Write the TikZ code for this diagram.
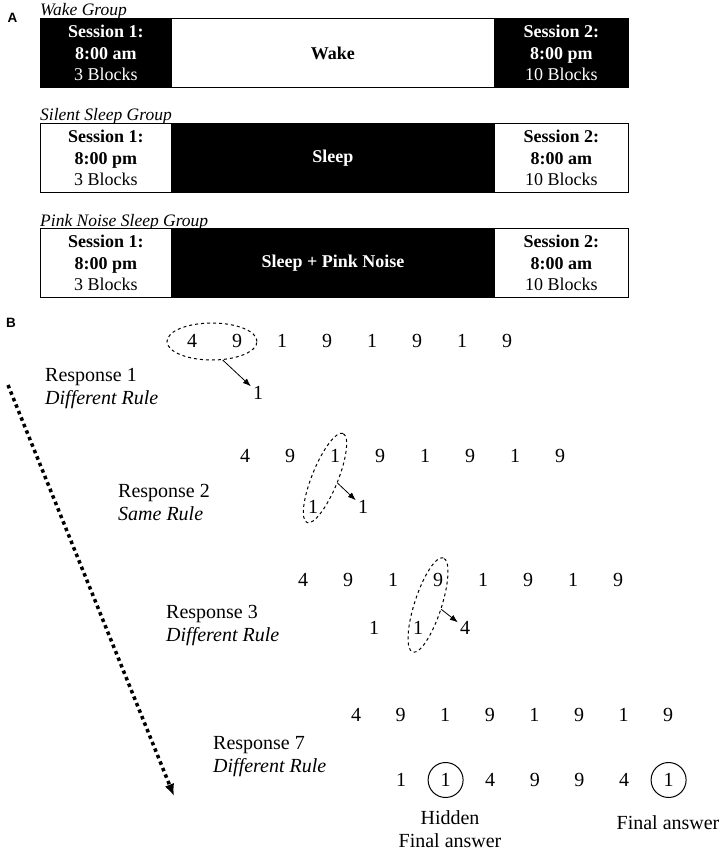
\documentclass[tikz,border=0pt]{standalone}
\usepackage{fontspec}
\setmainfont{Liberation Serif}
\setsansfont{Liberation Sans}
\usetikzlibrary{arrows.meta, positioning, shapes.geometric}
\tikzset{
  DARK/.style={% Style for black session cells
      rectangle, line width=0.8pt,
      anchor=west,
      align=center,
      text=white,
      minimum height=69pt,
      inner sep=0pt,
      fill=black,
      draw=black,
      font=\fontsize{18}{21.5}\selectfont
  },
  LIGHT/.style={% Style for white session cells
      DARK,
      text=black,
      fill=white
  },
  panel/.style={font=\sffamily\bfseries\fontsize{13.5}{16}\selectfont, inner sep=0pt},
  digit/.style={inner sep=2pt, font=\fontsize{20}{23}\selectfont},
  resp/.style={anchor=west, align=left, inner sep=0pt, font=\fontsize{20}{23}\selectfont},
  pick/.style={ellipse, draw, dashed, line width=1pt, inner sep=0pt},
  hit/.style={digit, circle, draw, line width=1pt, minimum size=35pt},
  rulearrow/.style={-{Latex[length=8pt,width=6pt]}, line width=0.8pt}
}
\def\grouprow(#1)#2[#3]#4{%
  \begin{scope}[shift={(#1)}]
    \node[font=\fontsize{17.5}{20}\selectfont\itshape, anchor=base west, inner sep=0pt] (#2Title) at (0,-37) {#3};
    \gdef\cellx{0}% left edge of the next cell
    \foreach \cw/\cs/\ct [count=\ci] in {#4} {%
      \node[\cs, minimum width=\cw pt] (#2\ci) at (\cellx pt,0) {\ct};
      \pgfmathsetmacro{\nextx}{\cellx+\cw}% step to the next cell
      \global\let\cellx\nextx
    }
  \end{scope}
}

\begin{document}
\begin{tikzpicture}[x=1pt, y=-1pt]
  \useasboundingbox (0,0) rectangle (727,850);
  % panel A
  \node[panel] (labA) at (12.5,17.5) {A};
  \grouprow(40,53){wake}[Wake Group]{131/DARK/{\textbf{Session 1:}\\\textbf{8:00 am}\\3 Blocks},
    323/LIGHT/{\textbf{Wake}},
    134/DARK/{\textbf{Session 2:}\\\textbf{8:00 pm}\\10 Blocks}}
  \grouprow(40,158){silent}[Silent Sleep Group]{131/LIGHT/{\textbf{Session 1:}\\\textbf{8:00 pm}\\3 Blocks},
    323/DARK/{\textbf{Sleep}},
    134/LIGHT/{\textbf{Session 2:}\\\textbf{8:00 am}\\10 Blocks}}
  \grouprow(40,263){pink}[Pink Noise Sleep Group]{131/LIGHT/{\textbf{Session 1:}\\\textbf{8:00 pm}\\3 Blocks},
    323/DARK/{\textbf{Sleep + Pink Noise}},
    134/LIGHT/{\textbf{Session 2:}\\\textbf{8:00 am}\\10 Blocks}}
  % panel B
  \node[panel] (labB) at (11,323) {B};
  \coordinate (flowtop) at (8,385);
  \coordinate (flowend) at (174,796);
  \draw[line width=3.5pt, dash pattern=on 3.5pt off 3.5pt, -{Latex[length=12pt,width=10pt]}] (flowtop) -- (flowend);

  % response 1
  \foreach \d [count=\i] in {4,9,1,9,1,9,1,9}
    \node[digit] (top1\i) at ({192+45*(\i-1)},341) {\d};
  \node[pick, minimum width=90pt, minimum height=37pt] (pick1) at (212,341.5) {};
  \node[digit] (next1) at (258,393) {1};
  \draw[rulearrow] (pick1.-60) -- (next1);
  \node[resp] (resp1) at (45,389) {Response 1\\\textit{Different Rule}};

  % response 2
  \foreach \d [count=\i] in {4,9,1,9,1,9,1,9}
    \node[digit] (top2\i) at ({245+45*(\i-1)},456) {\d};
  \node[digit] (bot21) at (313,507) {1};
  \node[digit] (next2) at (363,507) {1};
  \node[pick, minimum width=96pt, minimum height=26pt, rotate=68] (pick2) at (325,478) {};
  \draw[rulearrow] (pick2.south) -- (next2);
  \node[resp] (resp2) at (118,502) {Response 2\\\textit{Same Rule}};

  % response 3
  \foreach \d [count=\i] in {4,9,1,9,1,9,1,9}
    \node[digit] (top3\i) at ({303+45*(\i-1)},580) {\d};
  \node[digit] (bot31) at (374,628) {1};
  \node[digit] (bot32) at (418,628) {1};
  \node[digit] (next3) at (465,628) {4};
  \node[pick, minimum width=99pt, minimum height=27pt, rotate=72] (pick3) at (428,605) {};
  \draw[rulearrow] (pick3.south) -- (next3);
  \node[resp] (resp3) at (166,625) {Response 3\\\textit{Different Rule}};

  % response 7
  \foreach \d [count=\i] in {4,9,1,9,1,9,1,9}
    \node[digit] (top7\i) at ({356+44.6*(\i-1)},715) {\d};
  \foreach \d/\st [count=\i] in {1/digit,1/hit,4/digit,9/digit,9/digit,4/digit,1/hit}
    \node[\st] (bot7\i) at ({401+44.6*(\i-1)},780) {\d};
  \node[resp] (resp7) at (213,757) {Response 7\\\textit{Different Rule}};
  \node[resp, anchor=center, align=center] (hidlab) at (450,829) {Hidden\\Final answer};
  \node[resp, anchor=center] (finlab) at (668,823) {Final answer};
\end{tikzpicture}
\end{document}
